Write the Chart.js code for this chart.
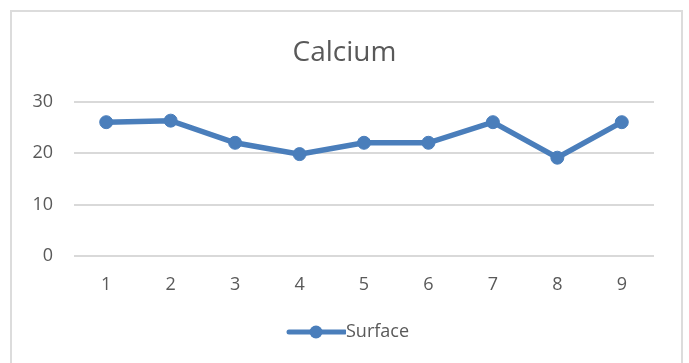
<!DOCTYPE html>
<html>
<head>
<meta charset="utf-8">
<script src="https://cdn.jsdelivr.net/npm/chart.js@4/dist/chart.umd.min.js"></script>
<style>
  html, body { margin: 0; padding: 0; background: #ffffff; }
  #wrap { position: relative; width: 689px; height: 363px; overflow: hidden; }
  #frame {
    position: absolute; left: 10px; top: 10px; width: 673px; height: 400px;
    border: 2px solid #dcdcdc; box-sizing: border-box;
  }
  canvas { position: absolute; left: 0; top: 0; }
</style>
</head>
<body>
<div id="wrap">
  <div id="frame"></div>
  <canvas id="c" width="689" height="363"></canvas>
</div>
<script>
// Sample positions and measured calcium at the surface
const categories = ['1', '2', '3', '4', '5', '6', '7', '8', '9'];
const surfaceValues = [26, 26.3, 22, 19.8, 22, 22, 26, 19.1, 26];
const yTicks = [0, 10, 20, 30];
const seriesName = 'Surface';
const chartTitle = 'Calcium';

const BLUE = '#4a7ebb';
const TEXT = '#595959';
const GRID = '#d9d9d9';
const FONT = "'Open Sans', 'DejaVu Sans', sans-serif";

// Legend swatch: a short line with a dot in the middle
function makeLegendSwatch() {
  const cv = document.createElement('canvas');
  cv.width = 75; cv.height = 16;
  const g = cv.getContext('2d');
  g.strokeStyle = BLUE;
  g.lineWidth = 5;
  g.lineCap = 'round';
  g.beginPath();
  g.moveTo(18, 8);
  g.lineTo(74, 8);
  g.stroke();
  g.fillStyle = BLUE;
  g.beginPath();
  g.arc(45, 8, 6.5, 0, Math.PI * 2);
  g.fill();
  return cv;
}
const swatch = makeLegendSwatch();

new Chart(document.getElementById('c'), {
  type: 'line',
  data: {
    labels: categories,
    datasets: [{
      label: seriesName,
      data: surfaceValues,
      borderColor: BLUE,
      backgroundColor: BLUE,
      borderWidth: 5.5,
      pointRadius: 6.5,
      pointBorderWidth: 1,
      pointBackgroundColor: BLUE,
      pointBorderColor: BLUE,
      tension: 0,
      clip: false
    }]
  },
  options: {
    responsive: false,
    animation: false,
    devicePixelRatio: 1,
    layout: { padding: { left: 0, right: 0, top: 0, bottom: 12 } },
    plugins: {
      title: {
        display: true,
        text: chartTitle,
        color: TEXT,
        font: { family: FONT, size: 28, weight: 'normal', lineHeight: 1.2 },
        padding: { top: 36, bottom: 32 }
      },
      legend: {
        display: true,
        position: 'bottom',
        labels: {
          color: TEXT,
          font: { family: FONT, size: 18 },
          padding: 10,
          usePointStyle: true,
          pointStyleWidth: 57,
          generateLabels: (chart) => chart.data.datasets.map((ds, i) => ({
            text: ds.label,
            fontColor: TEXT,
            pointStyle: swatch,
            datasetIndex: i,
            hidden: false,
            lineWidth: 0,
            strokeStyle: 'transparent',
            fillStyle: 'transparent'
          }))
        }
      },
      tooltip: { enabled: false }
    },
    scales: {
      x: {
        type: 'category',
        offset: true,
        grid: { display: false, drawTicks: false },
        border: { display: false },
        ticks: {
          color: TEXT,
          font: { family: FONT, size: 18 },
          padding: 18,
          maxRotation: 0
        },
        afterFit: (s) => { s.height = 57; }
      },
      y: {
        min: 0,
        max: 30,
        position: 'left',
        grid: { color: GRID, lineWidth: 2, drawTicks: false },
        border: { display: false },
        afterBuildTicks: (s) => { s.ticks = yTicks.map(v => ({ value: v })); },
        ticks: {
          color: TEXT,
          font: { family: FONT, size: 18 },
          padding: 21
        },
        afterFit: (s) => { s.width = 74; }
      },
      yRight: {
        position: 'right',
        display: true,
        grid: { display: false, drawTicks: false },
        border: { display: false },
        ticks: { display: false },
        afterFit: (s) => { s.width = 35; }
      }
    }
  }
});
</script>
</body>
</html>
